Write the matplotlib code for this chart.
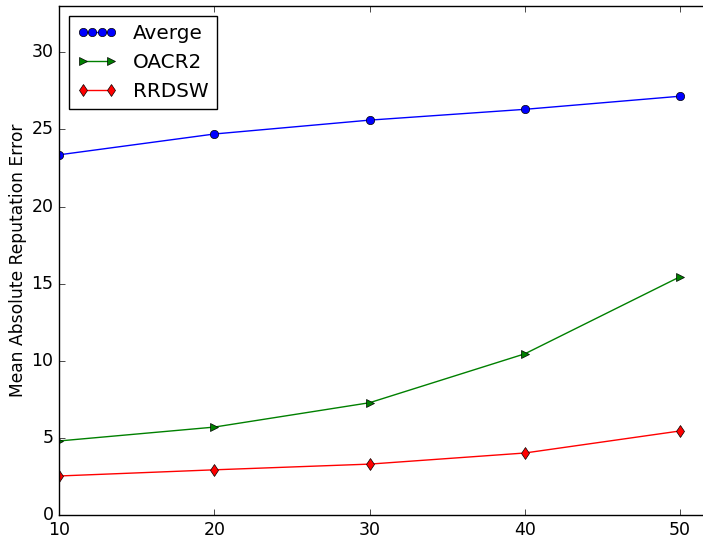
import matplotlib
matplotlib.use('Agg')
import matplotlib.pyplot as plt
from matplotlib.legend_handler import HandlerLine2D

plt.style.use('classic')
plt.rcParams['font.size'] = 12.5
plt.rcParams['legend.fontsize'] = 14.4

x = [10, 20, 30, 40, 50]
averge = [23.35, 24.7, 25.6, 26.3, 27.15]
oacr2 = [4.8, 5.7, 7.28, 10.45, 15.45]
rrdsw = [2.53, 2.93, 3.3, 4.02, 5.45]

fig = plt.figure(figsize=(7.03, 5.39), dpi=100)
fig.patch.set_facecolor('white')
ax = fig.add_axes([0.0839, 0.0445, 0.994, 0.9444])

l1, = ax.plot(x, averge, 'b-o', label='Averge')
l2, = ax.plot(x, oacr2, 'g->', label='OACR2')
l3, = ax.plot(x, rrdsw, 'r-d', label='RRDSW')

ax.set_xlim(10, 55)
ax.set_ylim(0, 33)
ax.set_xticks([10, 20, 30, 40, 50])
ax.set_yticks([0, 5, 10, 15, 20, 25, 30])
ax.set_ylabel('Mean Absolute Reputation Error', fontsize=12.3, labelpad=3)

ax.legend(loc='upper left', handler_map={l1: HandlerLine2D(numpoints=4)})

fig.savefig('out.png', dpi=100, facecolor='white')
